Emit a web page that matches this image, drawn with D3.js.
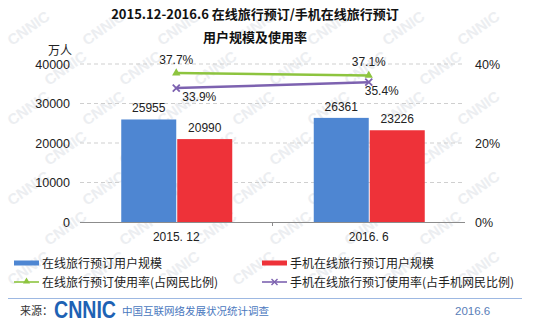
<!DOCTYPE html>
<html>
<head>
<meta charset="utf-8">
<script src="https://cdn.jsdelivr.net/npm/d3@7"></script>
<style>
  html, body { margin: 0; padding: 0; background: #fff; }
  svg { display: block; }
</style>
</head>
<body>
<svg id="chart" width="551" height="327"></svg>
<script>
// Periods on the x axis
const categories = ["2015. 12", "2016. 6"];
// User scale (10k people)
const onlineTravelUsers = [25955, 26361];
const mobileTravelUsers = [20990, 23226];
// Usage rates (%)
const onlineTravelRate = [37.7, 37.1];
const mobileTravelRate = [33.9, 35.4];
// Axis ticks
const leftTicks = [0, 10000, 20000, 30000, 40000];
const rightTicks = [0, 20, 40];

const seriesNames = [
  "在线旅行预订用户规模",
  "手机在线旅行预订用户规模",
  "在线旅行预订使用率(占网民比例)",
  "手机在线旅行预订使用率(占手机网民比例)"
];

const colors = { blue: "#4E86D2", red: "#EE3239", green: "#8DC43F", purple: "#7D62B0" };
const cjk = "'Noto Sans CJK SC', 'Microsoft YaHei', sans-serif";
const latin = "'Liberation Sans', Arial, sans-serif";

const W = 551, H = 327;
const svg = d3.select("#chart");

// light diagonal watermark tiled over the background (only whole marks)
const wm = svg.append("g").attr("fill", "#eceef1")
  .attr("font-family", latin).attr("font-weight", "bold").attr("font-size", 15);
for (let r = 0; r < 10; r++) {
  for (let c = 0; c < 9; c++) {
    const tx = c * 75 + (r % 2) * 37 + 12;
    const ty = r * 40 + 46;
    if (tx + 52 > W - 3 || ty - 46 < 0 || ty + 10 > H - 3) continue;
    wm.append("text")
      .attr("transform", `translate(${tx},${ty}) rotate(-35)`)
      .text("CNNIC");
  }
}

const plot = { left: 80, right: 465, top: 64, bottom: 222 };

const x = d3.scaleBand().domain(categories).range([plot.left, plot.right]);
const yL = d3.scaleLinear().domain([0, 40000]).range([plot.bottom, plot.top]);
const yR = d3.scaleLinear().domain([0, 40]).range([plot.bottom, plot.top]);

// gridlines
svg.append("g").selectAll("line").data(leftTicks.filter(d => d > 0)).join("line")
  .attr("x1", plot.left).attr("x2", plot.right)
  .attr("y1", d => yL(d)).attr("y2", d => yL(d))
  .attr("stroke", "#cfcfcf").attr("stroke-dasharray", "4,3");

// left axis
const gL = svg.append("g").attr("transform", `translate(${plot.left},0)`)
  .call(d3.axisLeft(yL).tickValues(leftTicks).tickFormat(d3.format("d")).tickSize(0).tickPadding(10));
gL.select(".domain").remove();
gL.selectAll("text").attr("font-family", latin).attr("font-size", 12.5).attr("fill", "#222");

// right axis
const gR = svg.append("g").attr("transform", `translate(${plot.right},0)`)
  .call(d3.axisRight(yR).tickValues(rightTicks).tickSize(0).tickPadding(10).tickFormat(d => d + "%"));
gR.select(".domain").remove();
gR.selectAll("text").attr("font-family", latin).attr("font-size", 12.5).attr("fill", "#222");

// unit
svg.append("text").attr("x", 48).attr("y", 55).attr("font-family", cjk)
  .attr("font-size", 12).attr("fill", "#222").text("万人");

// bars
const barW = 55;
const groups = [
  { vals: onlineTravelUsers, color: colors.blue, off: -barW },
  { vals: mobileTravelUsers, color: colors.red, off: 1 }
];
groups.forEach(g => {
  const cx = d => x(categories[d]) + x.bandwidth() / 2;
  svg.append("g").selectAll("rect").data(g.vals).join("rect")
    .attr("x", (d, i) => cx(i) + g.off).attr("width", barW)
    .attr("y", d => yL(d)).attr("height", d => plot.bottom - yL(d))
    .attr("fill", g.color);
  svg.append("g").selectAll("text").data(g.vals).join("text")
    .attr("x", (d, i) => cx(i) + g.off + barW / 2)
    .attr("y", d => yL(d) - 7)
    .attr("text-anchor", "middle").attr("font-family", latin).attr("font-size", 12)
    .attr("fill", "#222").text(d => d);
});

// x axis baseline
svg.append("line").attr("x1", plot.left).attr("x2", plot.right)
  .attr("y1", plot.bottom + 0.5).attr("y2", plot.bottom + 0.5).attr("stroke", "#8c8c8c");
const mid = x(categories[1]);
svg.append("line").attr("x1", mid).attr("x2", mid)
  .attr("y1", plot.bottom).attr("y2", plot.bottom + 4).attr("stroke", "#8c8c8c");

// category labels
svg.append("g").selectAll("text").data(categories).join("text")
  .attr("x", d => x(d) + x.bandwidth() / 2).attr("y", 241)
  .attr("text-anchor", "middle").attr("font-family", latin).attr("font-size", 12)
  .attr("fill", "#222").text(d => d);

// rate lines
const px = i => x(categories[i]) + x.bandwidth() / 2;
const line = d3.line().x((d, i) => px(i)).y(d => yR(d));
const tri = d3.symbol().type(d3.symbolTriangle).size(30);

svg.append("path").datum(onlineTravelRate).attr("d", line)
  .attr("fill", "none").attr("stroke", colors.green).attr("stroke-width", 2.5);
svg.append("g").selectAll("path").data(onlineTravelRate).join("path")
  .attr("transform", (d, i) => `translate(${px(i)},${yR(d)})`)
  .attr("d", tri).attr("fill", colors.green);

svg.append("path").datum(mobileTravelRate).attr("d", line)
  .attr("fill", "none").attr("stroke", colors.purple).attr("stroke-width", 2.5);
svg.append("g").selectAll("path").data(mobileTravelRate).join("path")
  .attr("transform", (d, i) => `translate(${px(i)},${yR(d)})`)
  .attr("d", "M-3.5,-3.5L3.5,3.5M-3.5,3.5L3.5,-3.5")
  .attr("stroke", colors.purple).attr("stroke-width", 1.8);

// rate labels
const rateLabel = (vals, dx, dy) => svg.append("g").selectAll("text").data(vals).join("text")
  .attr("x", (d, i) => px(i) + dx[i]).attr("y", d => yR(d) + dy)
  .attr("text-anchor", "middle").attr("font-family", latin).attr("font-size", 12)
  .attr("fill", "#222").text(d => d.toFixed(1) + "%");
rateLabel(onlineTravelRate, [0, 0], -9);
rateLabel(mobileTravelRate, [23, 13], 13);

// title
svg.append("text").attr("x", 255).attr("y", 19).attr("text-anchor", "middle")
  .attr("font-family", cjk).attr("font-weight", "bold").attr("font-size", 13)
  .attr("fill", "#111").text("2015.12-2016.6 在线旅行预订/手机在线旅行预订");
svg.append("text").attr("x", 255).attr("y", 42).attr("text-anchor", "middle")
  .attr("font-family", cjk).attr("font-weight", "bold").attr("font-size", 13)
  .attr("fill", "#111").text("用户规模及使用率");

// legend
const legend = [
  { name: seriesNames[0], color: colors.blue, kind: "bar", x: 14, y: 263 },
  { name: seriesNames[1], color: colors.red, kind: "bar", x: 262, y: 263 },
  { name: seriesNames[2], color: colors.green, kind: "tri", x: 14, y: 282 },
  { name: seriesNames[3], color: colors.purple, kind: "x", x: 262, y: 282 }
];
const lg = svg.append("g");
legend.forEach(l => {
  const g = lg.append("g").attr("transform", `translate(${l.x},${l.y})`);
  if (l.kind === "bar") {
    g.append("rect").attr("x", 0).attr("y", -2.5).attr("width", 25).attr("height", 5).attr("fill", l.color);
  } else {
    g.append("line").attr("x1", 0).attr("x2", 25).attr("y1", 0).attr("y2", 0)
      .attr("stroke", l.color).attr("stroke-width", 1.6);
    if (l.kind === "tri") {
      g.append("path").attr("transform", "translate(12.5,-0.5)")
        .attr("d", d3.symbol().type(d3.symbolTriangle).size(22)).attr("fill", l.color);
    } else {
      g.append("path").attr("d", "M9.5,-3L15.5,3M9.5,3L15.5,-3")
        .attr("stroke", l.color).attr("stroke-width", 1.4);
    }
  }
  g.append("text").attr("x", 28).attr("y", 4.5).attr("font-family", cjk)
    .attr("font-size", 12).attr("fill", "#222").text(l.name);
});

// footer
svg.append("line").attr("x1", 8).attr("x2", 522).attr("y1", 298.5).attr("y2", 298.5)
  .attr("stroke", "#9DB8E2").attr("stroke-width", 1.2);
svg.append("text").attr("x", 20).attr("y", 315).attr("font-family", cjk)
  .attr("font-size", 11).attr("fill", "#333").text("来源：");
svg.append("text").attr("x", 54).attr("y", 318).attr("font-family", latin)
  .attr("font-weight", "bold").attr("font-size", 23).attr("fill", "#1E62B4")
  .attr("textLength", 62).attr("lengthAdjust", "spacingAndGlyphs").text("CNNIC");
svg.append("text").attr("x", 122).attr("y", 315).attr("font-family", cjk)
  .attr("font-size", 10.5).attr("fill", "#4A78BE").text("中国互联网络发展状况统计调查");
svg.append("text").attr("x", 455).attr("y", 315).attr("font-family", latin)
  .attr("font-size", 11.5).attr("fill", "#5A7EB8").text("2016.6");
</script>
</body>
</html>
